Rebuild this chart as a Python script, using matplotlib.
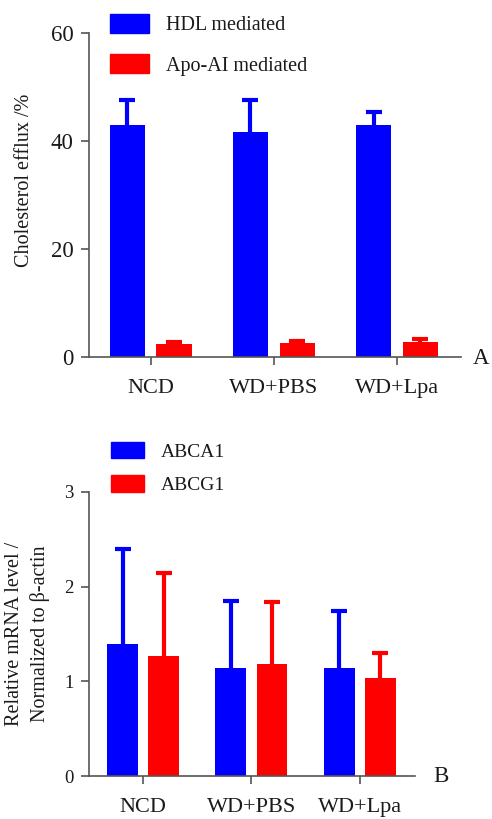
import numpy as np
import matplotlib
matplotlib.use('Agg')
import matplotlib.pyplot as plt

plt.rcParams['font.family'] = ['Liberation Serif', 'DejaVu Serif']

groups = ['NCD', 'WD+PBS', 'WD+Lpa']

# panel A
hdl = [43.0, 41.6, 43.0]
hdl_err = [4.7, 6.0, 2.4]
apo = [2.3, 2.6, 2.8]
apo_err = [0.5, 0.4, 0.4]

# panel B
abca1 = [1.39, 1.14, 1.14]
abca1_err = [1.01, 0.71, 0.60]
abcg1 = [1.27, 1.18, 1.04]
abcg1_err = [0.87, 0.66, 0.26]

BLUE = '#0000FF'
RED = '#FF0000'
AXC = '#555555'
TXT = '#1a1a1a'


def style_axis(ax, ylabelsize):
    for s in ['top', 'right']:
        ax.spines[s].set_visible(False)
    for s in ['left', 'bottom']:
        ax.spines[s].set_color(AXC)
        ax.spines[s].set_linewidth(1.2)
    ax.tick_params(axis='y', length=6, width=1.2, color=AXC, pad=5,
                   labelsize=ylabelsize, labelcolor=TXT)
    ax.tick_params(axis='x', length=6, width=1.2, color=AXC, pad=10,
                   labelsize=16, labelcolor=TXT)


def up_errorbar(ax, x, v, e, c):
    eb = ax.errorbar(x, v, yerr=[np.zeros(len(v)), e], fmt='none',
                     ecolor=c, elinewidth=3, capsize=5.5, capthick=3, zorder=3)
    # hide the lower caps, only the upper half of the bar is shown
    eb[1][0].set_visible(False)


def draw_bars(ax, v1, e1, v2, e2, c1, c2):
    x = np.arange(len(groups))
    w = 0.285
    off = 0.19
    ax.bar(x - off, v1, w, color=c1, zorder=2)
    ax.bar(x + off, v2, w, color=c2, zorder=2)
    up_errorbar(ax, x - off, v1, e1, c1)
    up_errorbar(ax, x + off, v2, e2, c2)
    ax.set_xticks(x)
    ax.set_xticklabels(groups)
    return x


fig = plt.figure(figsize=(4.92, 8.19), dpi=100)

# ---- A ----
ax1 = fig.add_axes([0.1809, 0.5645, 0.937 - 0.1809, 0.3948])
draw_bars(ax1, hdl, hdl_err, apo, apo_err, BLUE, RED)
ax1.set_xlim(-0.5, 2.52)
ax1.set_ylim(0, 60)
ax1.set_yticks([0, 20, 40, 60])
style_axis(ax1, 16.5)
fig.text(25 / 492, 1 - 180 / 819, 'Cholesterol efflux /%', rotation=90,
         ha='center', va='center', fontsize=14.5, color=TXT)
fig.text(473 / 492, 1 - 358 / 819, 'A', ha='left', va='center',
         fontsize=16.5, color=TXT)
h1 = [plt.Rectangle((0, 0), 1, 1, color=BLUE), plt.Rectangle((0, 0), 1, 1, color=RED)]
fig.legend(h1, ['HDL mediated', 'Apo-AI mediated'], loc='upper left',
           bbox_to_anchor=(96 / 492, 1 - 0 / 819), frameon=False,
           fontsize=14.5, handlelength=1.95, handleheight=1.05,
           handletextpad=0.85, labelspacing=0.95, borderpad=0.2,
           labelcolor=TXT)

# ---- B ----
ax2 = fig.add_axes([0.1809, 0.0525, 0.8435 - 0.1809, 0.3468])
draw_bars(ax2, abca1, abca1_err, abcg1, abcg1_err, BLUE, RED)
ax2.set_xlim(-0.5, 2.51)
ax2.set_ylim(0, 3)
ax2.set_yticks([0, 1, 2, 3])
style_axis(ax2, 13.5)
fig.text(28 / 492, 1 - 634 / 819, 'Relative mRNA level /\nNormalized to β-actin',
         rotation=90, ha='center', va='center', fontsize=14.5,
         linespacing=1.4, color=TXT)
fig.text(433 / 492, 1 - 776 / 819, 'B', ha='left', va='center',
         fontsize=16.5, color=TXT)
h2 = [plt.Rectangle((0, 0), 1, 1, color=BLUE), plt.Rectangle((0, 0), 1, 1, color=RED)]
fig.legend(h2, ['ABCA1', 'ABCG1'], loc='upper left',
           bbox_to_anchor=(97 / 492, 1 - 428 / 819), frameon=False,
           fontsize=14, handlelength=1.72, handleheight=0.95,
           handletextpad=0.85, labelspacing=0.75, borderpad=0.2,
           labelcolor=TXT)

fig.savefig('out.png', dpi=100)
